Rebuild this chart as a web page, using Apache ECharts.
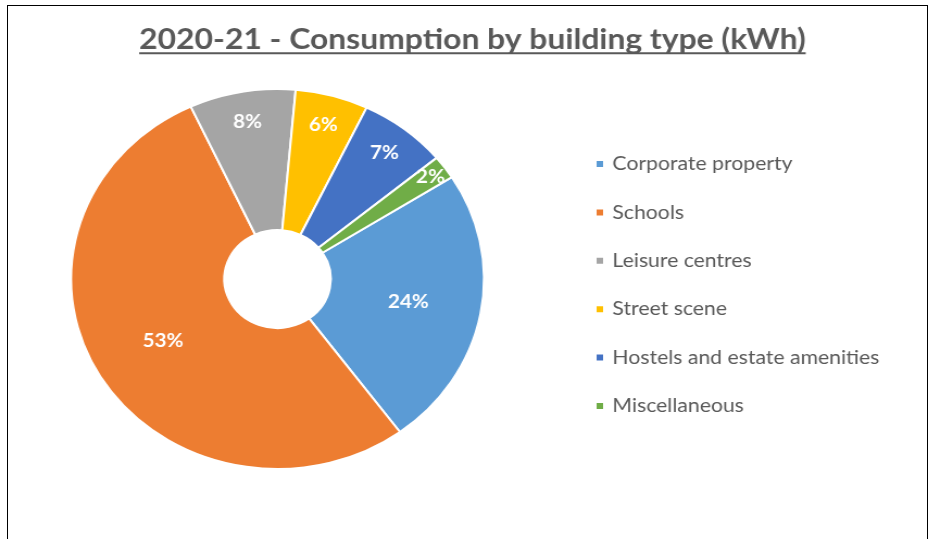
<!DOCTYPE html>
<html><head><meta charset="utf-8">
<script src="https://cdn.jsdelivr.net/npm/echarts@6/dist/echarts.min.js"></script>
<style>
html,body{margin:0;padding:0;background:#fff;overflow:hidden;width:928px;height:539px;}
#frame{position:absolute;left:7px;top:5px;width:921px;height:600px;border:1px solid #000;box-sizing:border-box;}
#chart{position:absolute;left:0;top:0;width:854px;height:539px;transform-origin:0 0;transform:scaleX(1.08665);}
</style></head><body>
<div id="frame"></div><div id="chart"></div>
<script>
const titleText = '2020-21 - Consumption by building type (kWh)';
const categories = ['Corporate property','Schools','Leisure centres','Street scene','Hostels and estate amenities','Miscellaneous'];
const values = [23.9, 53.2, 8.3, 5.7, 6.9, 2.0];
const colors = ['#5B9BD5','#ED7D31','#A5A5A5','#FFC000','#4472C4','#70AD47'];

const FONT = 'Lato';
const titleSize = 29.3;
const titleCX = 434.8;
const center = [255.4, 279];
const startAngle = 32.4;
const midLabelIdx = [0, 1];
const outerLabelIdx = [2, 3, 4];
const edgeLabelIdx = [5];

const ctx = document.createElement('canvas').getContext('2d');
ctx.font = 'bold ' + titleSize + 'px ' + FONT;
const tw = ctx.measureText(titleText).width;

const labelStyle = {position:'inside', formatter:'{d}%', color:'#fff', fontFamily:FONT, fontWeight:'bold', fontSize:19};

function mkData(showIdx, visible){
  return categories.map((n,i)=>({
    name:n, value:values[i],
    itemStyle: visible ? {color:colors[i]} : {color:'rgba(0,0,0,0)', borderWidth:0},
    label:{show: showIdx.indexOf(i) >= 0}
  }));
}
function overlay(radius, idx){
  return {type:'pie', center:center, radius:radius, startAngle:startAngle, clockwise:true,
    percentPrecision:0, silent:true, legendHoverLink:false, z:3,
    label:labelStyle, labelLine:{show:false}, emphasis:{disabled:true},
    data:mkData(idx,false)};
}

const chart = echarts.init(document.getElementById('chart'), null, {renderer:'canvas'});
chart.setOption({
  animation:false,
  title:{text:titleText, left:titleCX - tw/2, top:25.5, padding:0,
    textStyle:{fontFamily:FONT, fontWeight:'bold', fontSize:titleSize, color:'#595959'}},
  legend:{orient:'vertical', left:542, top:149, icon:'rect', itemWidth:8, itemHeight:8, itemGap:28.4,
    data:categories, selectedMode:false,
    textStyle:{fontFamily:FONT, fontSize:19.5, color:'#595959', lineHeight:20, padding:[0,0,0,2.6]}},
  graphic:[{type:'line', shape:{x1:titleCX - tw/2, y1:53.3, x2:titleCX + tw/2, y2:53.3},
    style:{stroke:'#595959', lineWidth:2}, silent:true}],
  series:[
    {type:'pie', center:center, radius:[49,190], startAngle:startAngle, clockwise:true,
      percentPrecision:0, itemStyle:{borderColor:'#fff', borderWidth:2},
      label:labelStyle, labelLine:{show:false}, emphasis:{disabled:true},
      data:mkData(midLabelIdx,true)},
    overlay([124,190], outerLabelIdx),
    overlay([152,190], edgeLabelIdx)
  ]
});
</script>
</body></html>
